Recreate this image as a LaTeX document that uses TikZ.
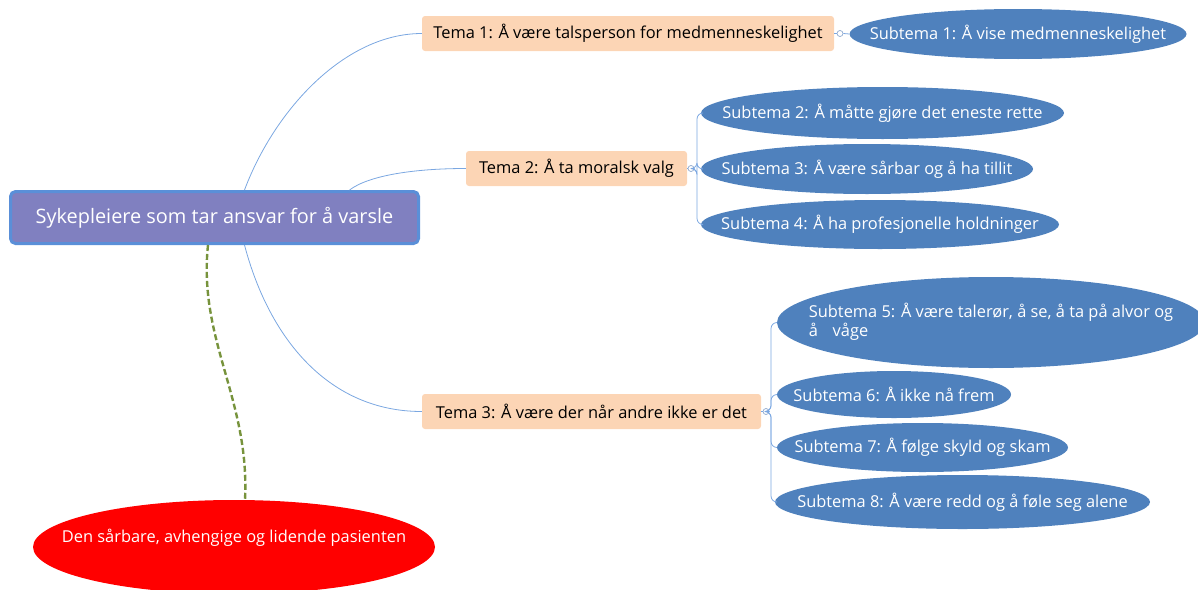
\documentclass[tikz,border=0pt]{standalone}
\usepackage{fontspec}
\setmainfont{Open Sans}
\usetikzlibrary{shapes.geometric}
\definecolor{rootfill}{HTML}{8080C0}
\definecolor{rootline}{HTML}{5A8FD8}
\definecolor{peach}{HTML}{FCD5B5}
\definecolor{subfill}{HTML}{4F81BD}
\definecolor{linkblue}{HTML}{7BA7E1}
\definecolor{olive}{HTML}{77933C}
\definecolor{knobline}{HTML}{8FA9CF}
% text that does not widen the ellipse around it
\newcommand{\zerowide}[1]{\makebox[0pt]{#1}}
\begin{document}
\begin{tikzpicture}[x=1pt,y=-1pt,
  root/.style={draw=rootline, line width=3pt, fill=rootfill, rounded corners=5pt,
    minimum width=408pt, minimum height=52pt, inner sep=0pt, text=white,
    font=\fontsize{19.9}{23}\selectfont},
  tema/.style={fill=peach, rounded corners=3pt, minimum height=35pt, inner sep=0pt,
    text=black, font=\fontsize{16.4}{19}\selectfont},
  subnode/.style={ellipse, fill=subfill, inner sep=0pt, text=white,
    font=\fontsize{16.4}{19.5}\selectfont},
  patient/.style={ellipse, fill=red, inner sep=0pt, text=white,
    font=\fontsize{16.4}{19}\selectfont},
  link/.style={draw=linkblue, line width=0.8pt},
  branch/.style={draw=linkblue, line width=0.8pt, rounded corners=6pt},
  knob/.style={circle, draw=knobline, fill=white, inner sep=0pt, minimum size=6pt, line width=0.7pt},
  tie/.style={draw=olive, line width=2.4pt, dash pattern=on 6pt off 3pt}
]
\useasboundingbox (0,0) rectangle (1198,589);

% central topic
\node[root] (root) at (214.5,217.5) {Sykepleiere som tar ansvar for å varsle};

% main themes
\node[tema, minimum width=412pt] (t1) at (628,33.5) {Tema 1: Å være talsperson for medmenneskelighet};
\node[tema, minimum width=221pt] (t2) at (576.5,168.5) {Tema 2: Å ta moralsk valg};
\node[tema, minimum width=339pt] (t3) at (591.5,411.5) {Tema 3: Å være der når andre ikke er det};

% collapse markers
\node[knob] (k1) at (840,33.5) {};
\node[knob] (k2) at (691,168.5) {};
\node[knob] (k3) at (766,411.5) {};
\coordinate (j2) at (697,168.5);
\coordinate (j3) at (771,411.5);

% sub-themes
\node[subnode, minimum width=337pt, minimum height=50pt] (s1) at (1018,34) {\zerowide{Subtema 1: Å vise medmenneskelighet}};
\node[subnode, minimum width=363pt, minimum height=52pt] (s2) at (882.5,113) {\zerowide{Subtema 2: Å måtte gjøre det eneste rette}};
\node[subnode, minimum width=332pt, minimum height=50pt] (s3) at (867,169) {\zerowide{Subtema 3: Å være sårbar og å ha tillit}};
\node[subnode, minimum width=358pt, minimum height=49pt] (s4) at (880,224.5) {\zerowide{Subtema 4: Å ha profesjonelle holdninger}};
\node[subnode, minimum width=428pt, minimum height=91pt] (s5) at (991,322.5)
  {\zerowide{\begin{tabular}{@{}l@{}}Subtema 5: Å være talerør, å se, å ta på alvor og\\[-1pt]å\hspace{0.9em}våge\end{tabular}}};
\node[subnode, minimum width=234pt, minimum height=47pt] (s6) at (894,394.5) {\zerowide{Subtema 6: Å ikke nå frem}};
\node[subnode, minimum width=291pt, minimum height=49pt] (s7) at (922.5,447.5) {\zerowide{Subtema 7: Å følge skyld og skam}};
\node[subnode, minimum width=375pt, minimum height=54pt] (s8) at (962.5,502) {\zerowide{Subtema 8: Å være redd og å føle seg alene}};

% patient
\node[patient, minimum width=402pt, minimum height=94pt,
  label={[text=white, font=\fontsize{16.4}{19}\selectfont, yshift=9.5pt]center:Den sårbare, avhengige og lidende pasienten}]
  (pt) at (234,547) {};

% connectors from the central topic
\draw[link] ([xshift=30pt]root.north) .. controls +(30,-80) and +(-77,0) .. (t1.west);
\draw[link] ([xshift=135pt]root.north) .. controls +(20,-15) and +(-50,0) .. (t2.west);
\draw[link] ([xshift=30pt]root.south) .. controls +(25,95) and +(-92,0) .. (t3.west);

% dashed tie to the patient
\draw[tie] ([xshift=-6.5pt]root.south) .. controls +(-10,95) and +(5,-100) .. ([xshift=11pt]pt.north);

% theme 1 branch
\draw[link] (t1.east) -- (k1.west);
\draw[link] (k1.east) -- (s1.west);

% theme 2 branches
\draw[link] (t2.east) -- (k2.west);
\draw[branch] (k2.east) -- (j2) |- (s2.west);
\draw[branch] (k2.east) -- (j2) |- (s3.west);
\draw[branch] (k2.east) -- (j2) |- (s4.west);

% theme 3 branches
\draw[link] (t3.east) -- (k3.west);
\draw[branch] (k3.east) -- (j3) |- (s5.west);
\draw[branch] (k3.east) -- (j3) |- (s6.west);
\draw[branch] (k3.east) -- (j3) |- (s7.west);
\draw[branch] (k3.east) -- (j3) |- (s8.west);
\end{tikzpicture}
\end{document}
